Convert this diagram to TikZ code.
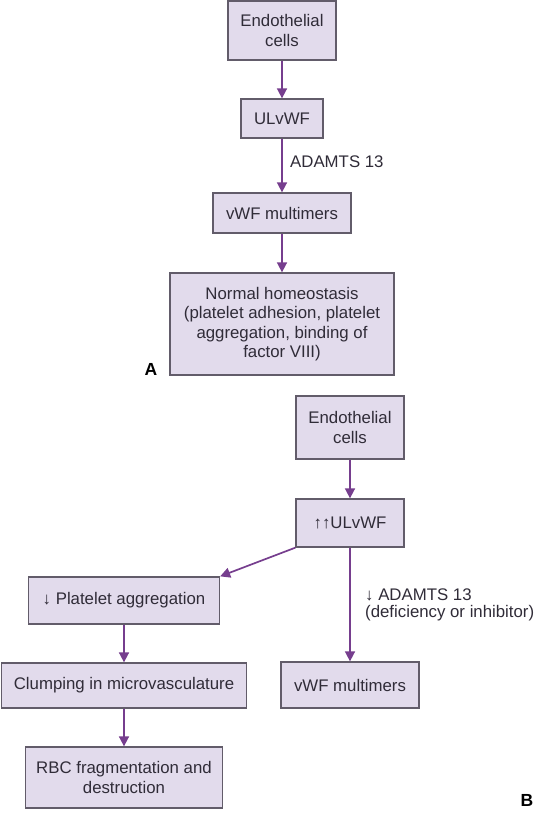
\documentclass[tikz,border=0pt]{standalone}
\usepackage{fontspec}
\setmainfont{Liberation Sans}
\usetikzlibrary{arrows.meta}
\definecolor{boxfill}{RGB}{226,219,236}
\definecolor{boxline}{RGB}{98,92,106}
\definecolor{arr}{RGB}{118,62,142}
\definecolor{txt}{RGB}{48,44,56}
\begin{document}
\begin{tikzpicture}[x=1pt,y=-1pt,
  box/.style={draw=boxline, fill=boxfill, line width=1.3pt, inner sep=0pt, align=center, text=txt, font=\fontsize{16.8}{19.5}\selectfont},
  flow/.style={draw=arr, line width=1.7pt, -{Triangle[length=10pt,width=10pt]}},
  lbl/.style={text=txt, align=left, inner sep=0pt, font=\fontsize{16.8}{16.5}\selectfont},
  panel/.style={text=black, inner sep=0pt, font=\fontsize{17.5}{17.5}\selectfont\bfseries}]
\useasboundingbox (0,0) rectangle (535,813);
% Panel A
\node[box, minimum width=108pt, minimum height=59pt] (a1) at (282,30.5) {Endothelial\\cells};
\node[box, minimum width=82pt, minimum height=39pt] (a2) at (282,118.5) {ULvWF};
\node[box, minimum width=138pt, minimum height=40pt] (a3) at (282,213) {vWF multimers};
\node[box, minimum width=224pt, minimum height=102pt] (a4) at (282,324) {Normal homeostasis\\(platelet adhesion, platelet\\aggregation, binding of\\factor VIII)};
\node[lbl, anchor=west] (la) at (290,162) {ADAMTS 13};
\node[panel] (pa) at (151,369) {A};
\draw[flow] (a1.south) -- (a2.north);
\draw[flow] (a2.south) -- (a3.north);
\draw[flow] (a3.south) -- (a4.north);
% Panel B
\node[box, minimum width=108pt, minimum height=63pt] (b1) at (350,427.5) {Endothelial\\cells};
\node[box, minimum width=108pt, minimum height=48pt] (b2) at (350,523) {↑↑ULvWF};
\node[box, minimum width=191pt, minimum height=47pt] (b3) at (124,600.5) {↓ Platelet aggregation};
\node[box, minimum width=245pt, minimum height=45pt] (b4) at (124,685.5) {Clumping in microvasculature};
\node[box, minimum width=197pt, minimum height=61pt] (b5) at (124,777.5) {RBC fragmentation and\\destruction};
\node[box, minimum width=138pt, minimum height=46pt] (b6) at (350,685) {vWF multimers};
\node[lbl, anchor=north west] (lb) at (365,589) {↓ ADAMTS 13\\(deficiency or inhibitor)};
\node[panel] (pb) at (527,800) {B};
\draw[flow] (b1.south) -- (b2.north);
\draw[flow] (b2.south west) -- (b3.north east);
\draw[flow] (b2.south) -- (b6.north);
\draw[flow] (b3.south) -- (b4.north);
\draw[flow] (b4.south) -- (b5.north);
\end{tikzpicture}
\end{document}
